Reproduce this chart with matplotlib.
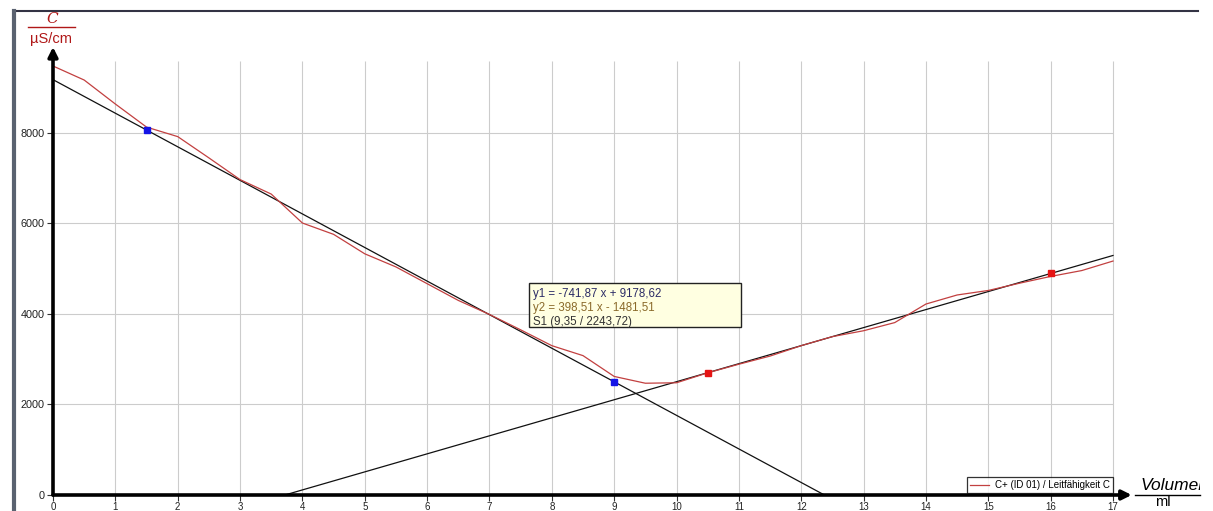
import matplotlib.pyplot as plt
from matplotlib.lines import Line2D
from matplotlib.patches import Rectangle
from matplotlib.transforms import Bbox

plt.rcParams["font.family"] = ["Liberation Sans", "DejaVu Sans"]

volume = [0, 0.5, 1, 1.5, 2, 2.5, 3, 3.5, 4, 4.5, 5, 5.5, 6, 6.5, 7, 7.5,
          8, 8.5, 9, 9.5, 10, 10.5, 11, 11.5, 12, 12.5, 13, 13.5, 14, 14.5,
          15, 15.5, 16, 16.5, 17]
conductivity = [9480, 9170, 8640, 8130, 7920, 7450, 6970, 6650, 6010, 5760,
                5330, 5040, 4670, 4300, 3990, 3650, 3300, 3080, 2620, 2470,
                2480, 2700, 2890, 3070, 3300, 3500, 3630, 3810, 4220, 4420,
                4520, 4680, 4830, 4960, 5170]

# fit lines (end points)
fit1_x = [0, 12.372]
fit1_y = [9178.62, 0]
fit2_x = [3.718, 17]
fit2_y = [0, 5293.2]

# fit range markers
blue_x = [1.5, 9]
blue_y = [8066, 2502]
red_x = [10.5, 16]
red_y = [2703, 4895]

x_ticks = list(range(0, 18))
y_ticks = [0, 2000, 4000, 6000, 8000]

fit_text = ["y1 = -741,87 x + 9178,62",
            "y2 = 398,51 x - 1481,51",
            "S1 (9,35 / 2243,72)"]
fit_colors = ["#2c2c66", "#8a6a2a", "#333333"]

W, H = 1213, 511
fig = plt.figure(figsize=(W / 100, H / 100), dpi=100)


def fx(px):
    return px / W


def fy(py):
    return 1 - py / H


ax = fig.add_axes([fx(53), fy(495), (1131.7 - 53) / W, (495 - 47) / H])
ax.set_xlim(0, 17.3)
ax.set_ylim(0, 9900)
for s in ax.spines.values():
    s.set_visible(False)

# grid, limited like in the original program
ax.vlines(x_ticks, 0, 9600, color="#cccccc", lw=0.8, zorder=0)
ax.hlines(y_ticks[1:], 0, 17, color="#cccccc", lw=0.8, zorder=0)

# axes with arrows
arrow = dict(arrowstyle="-|>", lw=2.6, color="black", mutation_scale=14,
             shrinkA=0, shrinkB=0)
ax.annotate("", xy=(17.3, 0), xytext=(0, 0), arrowprops=arrow,
            annotation_clip=False, zorder=5)
ax.annotate("", xy=(0, 9900), xytext=(0, 0), arrowprops=arrow,
            annotation_clip=False, zorder=5)

ax.set_xticks(x_ticks)
ax.set_yticks(y_ticks)
ax.tick_params(length=4, width=0.8, color="#333333", labelsize=7.8,
               labelcolor="#222222", pad=2)
ax.tick_params(axis="x", labelsize=7, pad=1)

ax.plot(fit1_x, fit1_y, color="#111111", lw=0.9, zorder=2)
ax.plot(fit2_x, fit2_y, color="#111111", lw=0.9, zorder=2)
ax.plot(volume, conductivity, color="#c24040", lw=0.9, zorder=3,
        label="C+ (ID 01) / Leitfähigkeit C")
ax.plot(blue_x, blue_y, "s", color="#1414e6", ms=5, zorder=4)
ax.plot(red_x, red_y, "s", color="#e61414", ms=5, zorder=4)

leg = ax.legend(loc="lower right", bbox_to_anchor=(17, 45),
                bbox_transform=ax.transData, fontsize=7, frameon=True,
                fancybox=False, handlelength=2.0, borderpad=0.3,
                borderaxespad=0, handletextpad=0.6)
leg.get_frame().set_edgecolor("black")
leg.get_frame().set_linewidth(0.9)
leg.set_zorder(6)

# fit result box
fig.add_artist(Rectangle((fx(529), fy(327)), (741 - 529) / W, (327 - 283) / H,
                         facecolor="#ffffe1", edgecolor="#222222", lw=1,
                         zorder=7))
for i, (t, c) in enumerate(zip(fit_text, fit_colors)):
    fig.text(fx(533), fy(294 + 14.2 * i), t, color=c, fontsize=8.3,
             va="center", ha="left", zorder=8)

# y axis unit label as fraction
red = "#b01818"
fig.text(fx(52), fy(19), "C", color=red, fontsize=11, style="italic",
         ha="center", va="center", family=["DejaVu Serif"])
fig.add_artist(Line2D([fx(28), fx(75)], [fy(27), fy(27)], color=red, lw=1))
fig.text(fx(51), fy(39), "µS/cm", color=red, fontsize=10.5, ha="center",
         va="center")

# x axis unit label as fraction, clipped at the right edge of the program
clip = Bbox.from_extents(0, 0, 1200, H)
vol = fig.text(fx(1140), fy(486), "Volumen", fontsize=12.5, style="italic",
               ha="left", va="center")
vol.set_clip_box(clip)
vol.set_clip_on(True)
fig.add_artist(Line2D([fx(1135), fx(1200)], [fy(495), fy(495)],
                      color="black", lw=1))
fig.text(fx(1163), fy(502), "ml", fontsize=10.5, ha="center", va="center")

# outer frame of the screenshot
fig.add_artist(Line2D([fx(14), fx(1198)], [fy(11), fy(11)],
                      color="#333344", lw=1.5))
fig.add_artist(Line2D([fx(14), fx(14)], [fy(11), 0], color="#5a6270", lw=3))

fig.savefig("out.png", dpi=100)
